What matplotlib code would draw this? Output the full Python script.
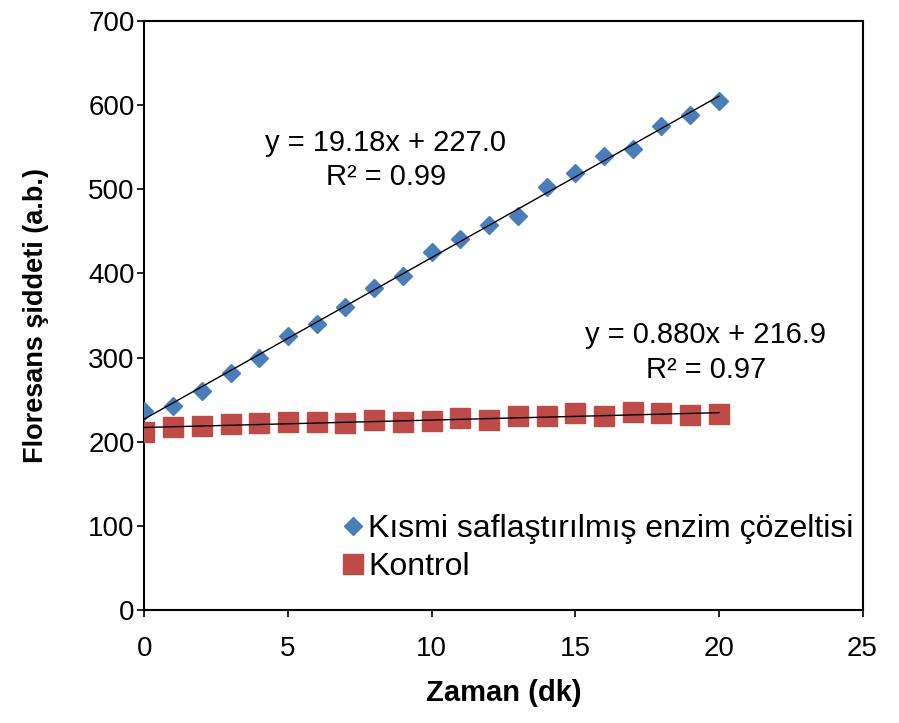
import numpy as np
import matplotlib.pyplot as plt

plt.rcParams['font.family'] = ['Liberation Sans', 'DejaVu Sans']

# Veri
zaman = np.arange(0, 21)
enzim = [236, 243, 260, 282, 300, 326, 340, 360, 383, 397, 425,
         441, 457, 468, 503, 519, 540, 548, 575, 588, 605]
kontrol = [212, 218, 219, 221, 222, 223, 223, 222, 226, 224, 225,
           228, 226, 231, 231, 234, 230, 235, 234, 232, 233]

# Doğrusal uyum katsayıları (grafikteki denklemler)
egim_enzim, kes_enzim = 19.18, 227.0
egim_kontrol, kes_kontrol = 0.880, 216.9

fig = plt.figure(figsize=(8.99, 7.23), dpi=100)
ax = fig.add_axes([0.1606, 0.1563, 0.7988, 0.8147])

ax.plot(zaman, enzim, ls='none', marker='D', ms=9, color='#4A7EBB',
        mec='#4A7EBB', label='Kısmi saflaştırılmış enzim çözeltisi', zorder=3)
ax.plot(zaman, kontrol, ls='none', marker='s', ms=14, color='#BE4B48',
        mec='#BE4B48', label='Kontrol', zorder=3)

xf = np.array([zaman[0], zaman[-1]])
ax.plot(xf, egim_enzim * xf + kes_enzim, color='black', lw=1, zorder=4)
ax.plot(xf, egim_kontrol * xf + kes_kontrol, color='black', lw=1, zorder=4)

ax.text(8.41, 535, 'y = 19.18x + 227.0\nR² = 0.99', ha='center', va='center',
        fontsize=21, linespacing=1.3)
ax.text(19.55, 306, 'y = 0.880x + 216.9\nR² = 0.97', ha='center', va='center',
        fontsize=21, linespacing=1.3)

ax.set_xlim(0, 25)
ax.set_ylim(0, 700)
ax.set_xticks(range(0, 26, 5))
ax.set_yticks(range(0, 701, 100))
ax.tick_params(direction='out', length=5, width=1.2, labelsize=20)
ax.tick_params(axis='x', pad=14)
ax.tick_params(axis='y', pad=2)
for s in ax.spines.values():
    s.set_linewidth(1.5)

ax.set_xlabel('Zaman (dk)', fontsize=21, fontweight='bold', labelpad=12)
ax.set_ylabel('Floresans şiddeti (a.b.)', fontsize=19.5, fontweight='bold', labelpad=28)

ax.legend(loc='upper left', bbox_to_anchor=(0.247, 0.19), frameon=False, fontsize=23,
          handletextpad=0.0, handlelength=0.95, labelspacing=0.25, borderpad=0.0)

fig.savefig('out.png', dpi=100)
